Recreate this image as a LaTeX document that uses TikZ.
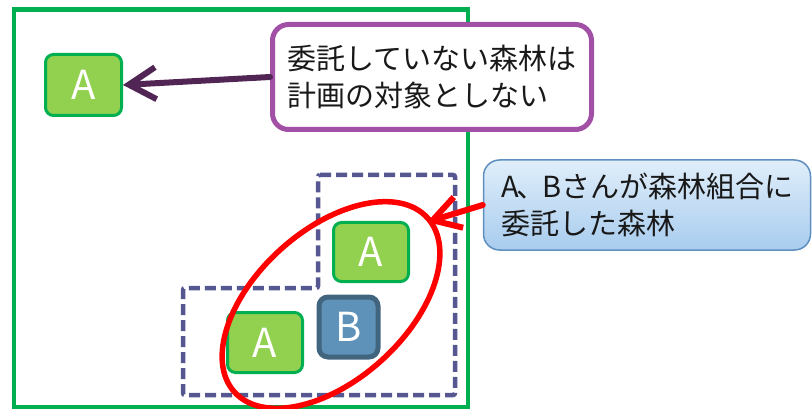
\documentclass[tikz,border=0pt]{standalone}
\usepackage{fontspec}
\newfontfamily\jp{Noto Sans CJK JP}
\usetikzlibrary{shapes.geometric,arrows.meta}
\definecolor{frameg}{HTML}{00B050}
\definecolor{boxg}{HTML}{92D050}
\definecolor{boxb}{HTML}{5E92B9}
\definecolor{boxbb}{HTML}{41657F}
\definecolor{dashc}{HTML}{565690}
\definecolor{purp}{HTML}{A24FA6}
\definecolor{darkp}{HTML}{512654}
\definecolor{bluetop}{HTML}{E0EEFA}
\definecolor{bluebot}{HTML}{A8CCEE}
\definecolor{blueline}{HTML}{5F8FBF}
\tikzset{
  gbox/.style={draw=frameg, fill=boxg, line width=3pt, rounded corners=8pt, text=white, font=\jp\fontsize{40}{40}\selectfont, inner sep=0pt},
  bbox/.style={draw=boxbb, fill=boxb, line width=5pt, rounded corners=9pt, text=white, font=\jp\fontsize{40}{40}\selectfont, inner sep=0pt},
  callout/.style={font=\jp\fontsize{29}{37}\selectfont, align=left, inner sep=0pt, text=black!90},
  barb/.style={line width=6pt, line cap=round, -{Straight Barb[length=27pt,width=32pt]}}
}
\begin{document}
\begin{tikzpicture}[x=1pt,y=-1pt]
\useasboundingbox (0,0) rectangle (812,409);
% frame
\draw[frameg, line width=4.5pt] (14,9.5) rectangle (468,407);
% dashed L shape
\draw[dashc, line width=4.5pt, dash pattern=on 11pt off 5pt, rounded corners=2pt]
  (318,175) -- (455,175) -- (455,395) -- (183,395) -- (183,288) -- (318,288) -- cycle;
% boxes
\node[gbox, minimum width=76pt, minimum height=61pt] (a1) at (83.5,85) {A};
\node[gbox, minimum width=75pt, minimum height=59pt] (a2) at (371,252) {A};
\node[gbox, minimum width=75pt, minimum height=60pt] (a3) at (265,342.5) {A};
\node[bbox, minimum width=59pt, minimum height=60pt] (b) at (348.5,327) {B};
% ellipse
\node[ellipse, draw=red, line width=5.5pt, minimum width=260pt, minimum height=150pt, inner sep=0pt, outer sep=0pt, rotate=42] (ell) at (331,305) {};
\coordinate (rt) at (427,222);
% callouts
\node[callout, draw=purp, fill=white, line width=5pt, rounded corners=16pt, minimum width=319pt, minimum height=105pt, text width=290pt] (p) at (432,77)
  {委託していない森林は\\計画の対象としない};
\node[callout, draw=blueline, line width=1.5pt, rounded corners=16pt, top color=bluetop, bottom color=bluebot, minimum width=327pt, minimum height=90pt, text width=291pt] (q) at (647,205)
  {A\kern-3pt、\kern-3pt Bさんが森林組合に\\委託した森林};
% arrows
\draw[barb, darkp] (p.west) -- (a1.east);
\draw[barb, red] (q.west) -- (rt);
\end{tikzpicture}
\end{document}
